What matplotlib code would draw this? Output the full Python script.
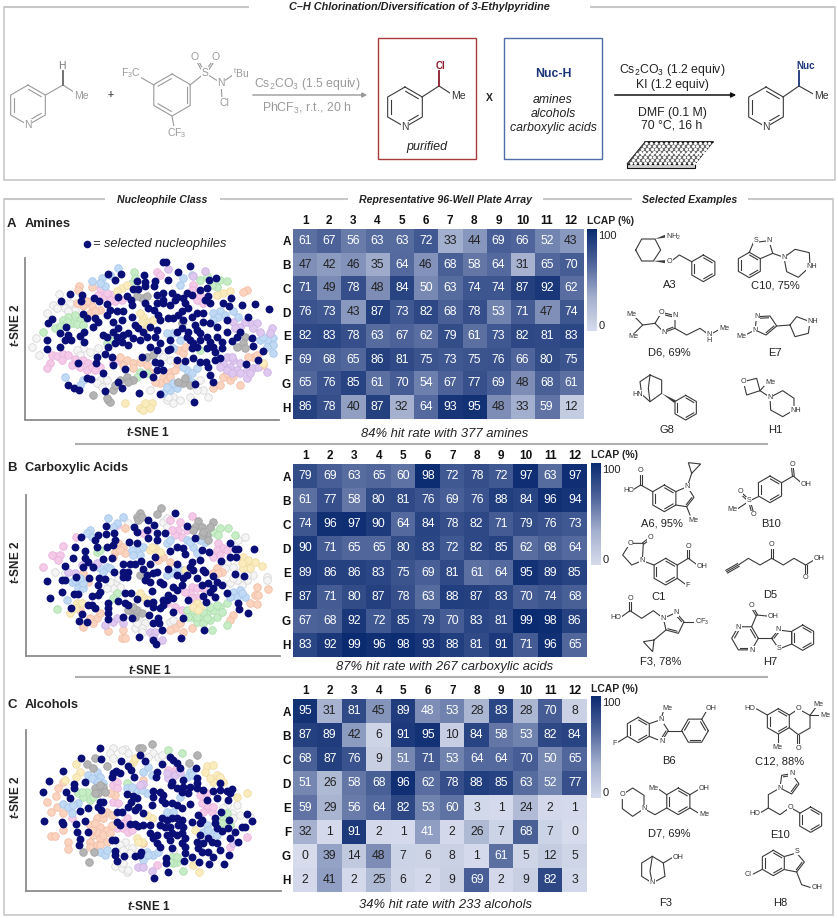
import numpy as np
import matplotlib as mp
mp.use('Agg')
import matplotlib.pyplot as plt
from matplotlib.colors import LinearSegmentedColormap
from matplotlib.patches import Rectangle, Polygon

plt.rcParams['font.family'] = ['Liberation Sans', 'DejaVu Sans']
plt.rcParams['mathtext.fontset'] = 'custom'
plt.rcParams['mathtext.rm'] = 'Liberation Sans'
plt.rcParams['mathtext.it'] = 'Liberation Sans:italic'
plt.rcParams['mathtext.bf'] = 'Liberation Sans:bold'
plt.rcParams['mathtext.bfit'] = 'Liberation Sans:italic:bold'
plt.rcParams['mathtext.default'] = 'regular'

W, H = 838, 918

rows = ['A', 'B', 'C', 'D', 'E', 'F', 'G', 'H']
cols = [str(i) for i in range(1, 13)]

amines_lcap = [
    [61, 67, 56, 63, 63, 72, 33, 44, 69, 66, 52, 43],
    [47, 42, 46, 35, 64, 46, 68, 58, 64, 31, 65, 70],
    [71, 49, 78, 48, 84, 50, 63, 74, 74, 87, 92, 62],
    [76, 73, 43, 87, 73, 82, 68, 78, 53, 71, 47, 74],
    [82, 83, 78, 63, 67, 62, 79, 61, 73, 82, 81, 83],
    [69, 68, 65, 86, 81, 75, 73, 75, 76, 66, 80, 75],
    [65, 76, 85, 61, 70, 54, 67, 77, 69, 48, 68, 61],
    [86, 78, 40, 87, 32, 64, 93, 95, 48, 33, 59, 12],
]
acids_lcap = [
    [79, 69, 63, 65, 60, 98, 72, 78, 72, 97, 63, 97],
    [61, 77, 58, 80, 81, 76, 69, 76, 88, 84, 96, 94],
    [74, 96, 97, 90, 64, 84, 78, 82, 71, 79, 76, 73],
    [90, 71, 65, 65, 80, 83, 72, 82, 85, 62, 68, 64],
    [89, 86, 86, 83, 75, 69, 81, 61, 64, 95, 89, 85],
    [87, 71, 80, 87, 78, 63, 88, 87, 83, 70, 74, 68],
    [67, 68, 92, 72, 85, 79, 70, 83, 81, 99, 98, 86],
    [83, 92, 99, 96, 98, 93, 88, 81, 91, 71, 96, 65],
]
alcohols_lcap = [
    [95, 31, 81, 45, 89, 48, 53, 28, 83, 28, 70, 8],
    [87, 89, 42, 6, 91, 95, 10, 84, 58, 53, 82, 84],
    [68, 87, 76, 9, 51, 71, 53, 64, 64, 70, 50, 65],
    [51, 26, 58, 68, 96, 62, 78, 88, 85, 63, 52, 77],
    [59, 29, 56, 64, 82, 53, 60, 3, 1, 24, 2, 1],
    [32, 1, 91, 2, 1, 41, 2, 26, 7, 68, 7, 0],
    [0, 39, 14, 48, 7, 6, 8, 1, 61, 5, 12, 5],
    [2, 41, 2, 25, 6, 2, 9, 69, 2, 9, 82, 3],
]

# selected nucleophiles
amines_sel = [(490,188),(499,188),(571,200),(533,217),(325,223),(363,222),(345,241),(432,227),(648,234),(626,240),(436,246),(410,243),(465,245),(505,241),(462,258),(434,260),(400,268),(415,268),(210,282),(245,285),(281,295),(296,303),(244,305),(184,305),(322,312),(353,291),(380,290),(392,300),(395,315),(470,285),(490,280),(515,280),(530,292),(548,295),(560,280),(575,285),(600,270),(620,265),(625,290),(615,300),(630,310),(693,296),(670,310),(686,318),(725,317),(766,314),(808,328),(745,350),(680,360),(435,310),(445,325),(470,310),(490,310),(510,315),(525,300),(490,300),(555,310),(565,325),(545,335),(535,345),(462,330),(475,345),(480,360),(505,355),(520,355),(575,350),(590,340),(610,340),(550,360),(248,342),(262,355),(285,355),(295,365),(320,345),(330,330),(350,335),(370,335),(395,350),(365,360),(340,365),(155,356),(143,368),(280,380),(198,382),(180,400),(205,405),(240,408),(252,395),(195,420),(212,420),(140,420),(140,447),(180,440),(253,425),(310,405),(320,410),(355,385),(340,395),(405,375),(415,385),(450,380),(470,390),(430,395),(350,410),(370,405),(385,400),(400,415),(420,420),(440,410),(465,410),(345,430),(365,425),(385,435),(450,440),(470,450),(510,420),(510,447),(530,395),(545,385),(565,395),(585,375),(610,365),(630,370),(650,380),(680,395),(720,395),(710,410),(755,413),(758,438),(788,452),(773,480),(737,491),(560,410),(570,420),(580,430),(575,445),(590,440),(600,420),(600,400),(590,390),(620,410),(630,425),(640,440),(650,410),(665,425),(695,423),(645,455),(620,445),(665,445),(325,440),(315,462),(335,470),(290,470),(287,490),(340,495),(235,490),(425,470),(375,507),(465,487),(480,490),(490,510),(470,510),(460,530),(430,523),(310,520),(260,535),(272,537),(205,555),(222,565),(236,570),(315,572),(353,545),(365,563),(416,578),(480,582),(585,553),(582,605),(555,483),(580,473),(600,485),(617,485),(625,500),(645,480),(660,475),(630,525),(640,545),(530,480),(505,450),(480,430)]
acids_sel = [(526,218),(445,240),(462,254),(562,259),(319,258),(401,262),(410,275),(243,291),(285,300),(295,285),(317,283),(342,280),(345,300),(340,315),(320,322),(290,320),(226,322),(256,334),(388,307),(412,310),(440,270),(445,295),(470,280),(495,280),(470,300),(510,333),(530,320),(548,325),(555,342),(584,295),(605,330),(627,337),(690,308),(705,327),(715,327),(763,327),(690,350),(708,352),(662,362),(600,360),(575,365),(570,380),(580,390),(219,354),(255,355),(265,365),(308,357),(335,355),(466,350),(422,362),(370,372),(390,372),(405,372),(450,372),(530,372),(195,378),(250,382),(280,382),(343,396),(370,395),(385,395),(380,410),(370,410),(430,387),(505,387),(530,405),(560,405),(590,413),(610,390),(615,395),(640,407),(706,402),(731,407),(142,422),(185,420),(195,420),(229,410),(266,415),(298,415),(315,418),(295,435),(440,405),(460,400),(470,395),(435,420),(450,425),(480,425),(490,432),(550,415),(545,435),(520,440),(530,450),(605,435),(625,428),(650,425),(665,435),(640,445),(630,455),(645,470),(681,459),(185,455),(222,463),(235,463),(150,473),(275,467),(300,455),(295,465),(375,460),(392,458),(455,452),(505,465),(410,478),(563,481),(610,468),(618,487),(715,488),(716,507),(743,519),(265,495),(275,495),(285,505),(325,490),(325,505),(355,483),(375,490),(385,495),(440,490),(460,485),(460,500),(490,480),(500,480),(490,495),(480,505),(520,475),(520,515),(213,503),(323,520),(323,537),(247,523),(238,542),(260,545),(370,532),(395,535),(448,525),(473,535),(478,548),(548,533),(458,548),(485,570),(611,571),(417,590),(460,600),(467,612),(542,593)]
alcohols_sel = [(299,208),(303,241),(243,238),(188,278),(148,309),(130,340),(222,318),(222,330),(198,340),(256,312),(211,358),(420,229),(434,248),(510,235),(520,245),(530,255),(540,268),(486,258),(364,249),(385,262),(392,275),(347,277),(360,283),(340,285),(335,297),(402,297),(470,280),(468,295),(589,269),(590,298),(590,315),(550,306),(516,310),(513,320),(660,313),(660,335),(640,337),(680,337),(697,332),(690,345),(685,365),(650,358),(620,365),(610,335),(590,330),(570,325),(550,325),(530,330),(545,340),(565,345),(380,347),(400,352),(410,360),(460,337),(480,340),(490,350),(458,355),(485,365),(495,375),(515,375),(530,380),(545,390),(570,378),(392,370),(385,385),(415,385),(405,395),(428,405),(455,380),(300,370),(308,372),(295,385),(303,395),(265,390),(240,398),(133,427),(185,432),(190,437),(227,437),(255,428),(230,460),(263,460),(350,400),(365,400),(350,430),(360,440),(390,438),(405,438),(415,442),(430,440),(450,440),(485,420),(500,425),(515,420),(530,420),(545,425),(480,440),(495,445),(510,445),(535,440),(550,445),(575,430),(595,410),(605,425),(600,435),(645,420),(645,435),(650,450),(662,400),(688,425),(685,448),(705,460),(665,458),(690,478),(715,492),(725,447),(735,445),(757,428),(742,407),(240,482),(238,500),(335,484),(345,484),(450,465),(470,470),(460,480),(470,495),(480,505),(500,470),(515,465),(510,485),(530,470),(545,465),(555,480),(545,495),(515,510),(555,505),(555,525),(600,470),(590,490),(610,495),(625,480),(635,490),(650,495),(660,515),(595,510),(605,520),(625,520),(640,535),(346,517),(346,530),(350,547),(372,533),(405,532),(423,520),(420,530),(497,540),(498,555),(553,547),(577,537),(596,551),(627,558),(671,556),(686,530),(503,582),(461,600)]

# pale cluster points by cluster colour
amines_pink = [(155,465),(170,468),(190,462),(205,465),(185,480),(150,490),(140,505),(250,480),(265,490),(240,500),(260,510),(275,500),(300,500),(310,290),(335,285),(345,305),(320,280),(470,218),(480,225),(580,255),(590,300),(610,310),(225,478),(215,495),(285,510),(295,285),(330,300),(365,300),(600,285),(575,270),(300,265),(340,490),(355,480)]
amines_peach = [(238,258),(275,262),(235,272),(740,270),(730,278),(250,320),(275,320),(270,340),(300,330),(380,480),(400,490),(370,495),(420,485),(440,495),(490,530),(510,515),(525,510),(500,540),(480,550),(465,545),(535,450),(550,460),(760,470),(790,495),(670,530),(690,540),(660,555),(640,565),(720,555),(770,465),(745,470),(260,305),(285,335),(230,310),(400,505),(450,515),(510,530),(530,490),(555,440),(360,470),(680,520),(700,528)]
amines_green = [(205,350),(225,345),(240,360),(190,360),(215,370),(165,385),(128,395),(403,216),(395,250),(600,240),(620,230),(660,240),(680,245),(650,262),(420,515),(440,520),(410,530),(330,420),(320,430),(600,450),(200,365),(230,372),(250,375),(180,378),(635,255),(405,235)]
amines_blue = [(250,540),(240,555),(195,530),(560,510),(575,520),(550,500),(590,505),(510,570),(530,565),(490,580),(540,550),(820,415),(800,420),(820,435),(820,460),(780,420),(660,335),(640,340),(700,335),(655,350),(520,400),(540,420),(500,400),(355,205),(330,225),(305,235),(275,243),(315,260),(550,235),(575,225),(520,445),(675,345),(715,350),(640,360),(560,530),(575,545),(520,550),(500,560),(300,250),(540,255),(800,440),(790,410)]
amines_lilac = [(680,470),(700,480),(720,490),(690,500),(710,510),(740,510),(670,490),(760,505),(800,515),(740,535),(720,520),(700,365),(720,380),(750,370),(770,370),(815,385),(780,395),(810,400),(505,208),(615,215),(580,230),(695,470),(660,500),(680,510),(760,385),(735,365),(705,385),(750,520),(775,500),(695,520)]
amines_yellow = [(440,620),(420,625),(455,610),(375,610),(430,350),(445,365),(420,340),(460,360),(365,265),(350,275),(670,280),(650,285),(790,490),(430,630),(450,625),(435,610),(425,365),(440,380),(690,275),(380,255)]
amines_gray = [(425,295),(410,290),(440,290),(325,600),(280,585),(380,530),(400,540),(360,540),(340,570),(550,550),(570,555),(535,545),(735,410),(730,430),(710,440),(735,445),(440,470),(460,465),(545,370),(330,605),(320,595),(385,545),(345,555),(555,535)]
amines_white = [(178,283),(158,315),(140,340),(210,310),(195,325),(225,330),(95,440),(108,415),(118,465),(250,445),(270,455),(230,450),(300,540),(320,540),(520,590),(500,600),(540,600),(625,590),(600,540),(610,570),(490,470),(510,480),(450,570),(205,335),(170,325),(290,550),(305,560),(520,610),(505,590),(590,570),(570,590),(475,455),(295,445),(240,465)]

acids_pink = [(130,380),(165,348),(180,345),(190,318),(175,360),(228,292),(575,228),(510,240),(540,245),(535,270),(545,290),(575,440),(590,445),(570,460),(590,470),(525,500),(545,510),(655,310),(670,325),(650,330),(640,350),(660,345),(445,270),(430,280),(350,255),(525,285),(515,270),(560,270),(555,455),(575,475),(610,445),(500,490),(680,330),(155,345)]
acids_peach = [(355,310),(370,320),(345,335),(375,340),(250,400),(265,425),(245,430),(650,385),(665,395),(640,400),(490,350),(510,365),(770,442),(805,448),(765,465),(775,465),(750,490),(770,493),(700,525),(690,540),(325,573),(370,570),(365,595),(375,595),(240,510),(290,535),(280,550),(250,560),(575,565),(550,575),(525,565),(540,550),(360,330),(340,350),(375,265),(475,360),(655,400),(270,535),(300,520),(510,570)]
acids_green = [(170,508),(350,460),(340,475),(290,335),(560,510),(580,520),(600,530),(620,520),(640,510),(660,500),(680,490),(590,545),(610,550),(630,540),(650,530),(665,515),(682,555),(636,570),(640,275),(660,265),(685,265),(705,285),(575,530),(565,530),(610,515),(630,500),(650,495),(620,535),(590,530),(655,285),(300,330)]
acids_blue = [(200,480),(230,430),(215,425),(235,445),(250,445),(270,270),(260,280),(325,235),(370,232),(350,250),(340,262),(500,310),(510,300),(410,330),(420,345),(395,330),(430,320),(580,320),(590,340),(560,300),(320,380),(300,385),(330,385),(700,455),(720,450),(735,470),(710,470),(690,470),(615,305),(600,300),(500,405),(550,390),(520,400),(225,420),(250,430),(240,415),(275,290),(400,345),(570,305),(725,460),(310,395),(535,385)]
acids_lilac = [(315,555),(340,545),(350,535),(450,575),(465,575),(485,600),(370,550),(225,400),(205,395),(280,380),(290,370),(245,375),(460,590)]
acids_yellow = [(465,325),(450,330),(480,335),(730,350),(740,370),(750,385),(765,365),(785,378),(730,385),(590,490),(580,500),(600,500),(430,470),(445,480),(210,518),(230,490),(245,490),(555,390),(455,320),(745,360),(725,370),(420,460),(595,510),(225,505)]
acids_gray = [(420,220),(410,230),(415,240),(482,205),(472,222),(595,242),(585,262),(605,262),(640,245),(630,262),(620,285),(605,285),(625,300),(580,270),(395,515),(410,510),(425,520),(385,510),(405,530),(425,232),(610,275),(400,500),(420,405)]
acids_white = [(165,395),(195,400),(800,412),(760,405),(740,420),(725,435),(710,420),(690,430),(700,380),(720,395),(680,370),(735,290),(715,300),(345,430),(360,440),(340,445),(490,245),(500,260),(420,545),(435,550),(405,565),(425,565),(510,545),(525,555),(320,445),(385,250),(700,415),(675,385),(800,420),(740,405),(355,415),(330,425),(410,550),(520,540),(500,235),(425,575)]

alcohols_pink = [(340,320),(350,310),(340,370),(355,375),(380,420),(370,450),(385,460),(350,450),(215,420),(520,280),(510,290),(505,275),(600,350),(620,390),(635,400),(610,400),(620,345),(690,505),(740,475),(470,560),(370,435),(395,455),(620,380),(640,385),(530,265),(350,330),(605,375)]
alcohols_peach = [(175,328),(168,353),(140,372),(170,387),(152,402),(190,405),(152,472),(165,472),(190,455),(205,490),(203,512),(270,490),(290,500),(280,470),(300,480),(270,440),(290,420),(310,420),(320,400),(300,445),(320,455),(335,440),(290,460),(310,470),(320,490),(345,350),(330,345),(430,305),(430,495),(285,435),(305,405),(335,410),(275,455),(270,505),(300,500),(330,465),(425,320),(190,310)]
alcohols_green = [(235,345),(260,340),(250,355),(270,365),(505,216),(547,225),(380,315),(515,535),(530,550),(520,555),(548,578),(670,420),(690,440),(680,405),(245,340),(280,355),(530,535),(510,550),(665,435)]
alcohols_blue = [(190,378),(205,385),(235,375),(215,405),(265,290),(290,280),(300,295),(285,305),(310,315),(300,520),(315,530),(430,280),(445,265),(455,290),(380,330),(410,335),(440,345),(570,280),(560,295),(440,520),(460,530),(430,545),(620,440),(640,465),(650,470),(540,355),(500,400),(520,400),(275,300),(295,310),(425,335),(395,325),(220,380),(445,530),(475,520),(610,460),(625,455),(575,290),(320,515)]
alcohols_lilac = [(430,318),(415,565),(430,565),(455,578),(525,290),(505,300),(420,320),(500,285),(540,280),(700,495)]
alcohols_yellow = [(228,258),(240,280),(228,295),(400,250),(390,262),(620,262),(638,260),(615,280),(650,290),(640,310),(670,310),(710,357),(741,343),(455,420),(410,480),(425,490),(598,582),(580,560),(585,455),(195,305),(660,295),(630,300),(405,240),(440,410),(415,490)]
alcohols_gray = [(300,335),(285,330),(310,325),(295,345),(285,345),(260,258),(280,270),(320,263),(285,240),(418,208),(455,198),(590,230),(567,255),(248,522),(268,552),(283,522),(300,320),(315,340),(425,208)]
alcohols_white = [(338,210),(330,225),(375,212),(385,225),(460,225),(445,235),(475,235),(345,563),(365,570),(380,580),(370,555),(695,405),(710,380),(680,380),(700,420),(750,415),(375,490),(395,510),(360,500),(520,515),(485,230),(340,240),(385,575),(390,525),(370,515),(720,410),(670,390),(365,215)]

palette = {'pink': ('#f5c9e8', '#e9b4dc'), 'peach': ('#fbd3bf', '#f2bfa8'), 'green': ('#c6edc6', '#afdfaf'),
           'blue': ('#c0d9f5', '#a9c8ea'), 'lilac': ('#dfc8f0', '#cdb3e4'), 'yellow': ('#fbecbd', '#efdca4'),
           'gray': ('#b4b4b4', '#a2a2a2'), 'white': ('#f5f5f5', '#d8d8d8')}
navy = '#0a0f78'
bond = '#3a3a3a'
grayc = '#9a9a9a'
frame = '#c8c8c8'

cmap = LinearSegmentedColormap.from_list('lcap', ['#d6dcec', '#a3afce', '#4d6399', '#0a2a70'])

fig = plt.figure(figsize=(W / 100, H / 100), dpi=100)
over = fig.add_axes([0, 0, 1, 1])
over.set_xlim(0, W)
over.set_ylim(H, 0)
over.axis('off')


def box(x0, y0, x1, y1):
    return [x0 / W, 1 - y1 / H, (x1 - x0) / W, (y1 - y0) / H]


def txt(x, y, s, size=8, ha='center', c='#222222', **kw):
    over.text(x, y, s, fontsize=size, ha=ha, va='center', color=c, **kw)


def hline(x0, x1, y, c=frame, lw=1.5):
    over.plot([x0, x1], [y, y], color=c, lw=lw, solid_capstyle='butt')


def mol(ox, oy, pts, closed=False, dbl=(), c=bond, k=3, lw=0.8):
    p = np.array([(ox + x / k, oy + y / k) for x, y in pts], dtype=float)
    q = np.vstack([p, p[:1]]) if closed else p
    over.plot(q[:, 0], q[:, 1], color=c, lw=lw, solid_joinstyle='miter', zorder=3)
    mid = p.mean(axis=0)
    for i in dbl:
        a, b = p[i], p[(i + 1) % len(p)]
        a2 = a + (b - a) * 0.14 + (mid - (a + b) / 2) * 0.2
        b2 = b - (b - a) * 0.14 + (mid - (a + b) / 2) * 0.2
        over.plot([a2[0], b2[0]], [a2[1], b2[1]], color=c, lw=lw, zorder=3)


def dbond(ox, oy, a, b, c=bond, k=3, lw=0.8, gap=0.9):
    a = np.array((ox + a[0] / k, oy + a[1] / k))
    b = np.array((ox + b[0] / k, oy + b[1] / k))
    n = np.array([-(b - a)[1], (b - a)[0]])
    n = n / np.hypot(*n) * gap
    for s in (-1, 1):
        over.plot([a[0] + s * n[0], b[0] + s * n[0]], [a[1] + s * n[1], b[1] + s * n[1]], color=c, lw=lw, zorder=3)


def wedge(ox, oy, a, b, c=bond, k=3):
    a = np.array((ox + a[0] / k, oy + a[1] / k))
    b = np.array((ox + b[0] / k, oy + b[1] / k))
    n = np.array([-(b - a)[1], (b - a)[0]])
    n = n / np.hypot(*n) * 1.5
    over.add_patch(Polygon([a, b + n, b - n], closed=True, color=c, lw=0, zorder=3))


def atom(ox, oy, x, y, s, size=5.2, c='#333333', k=3):
    over.text(ox + x / k, oy + y / k, s, fontsize=size, color=c, ha='center', va='center', zorder=4,
              bbox=dict(fc='white', ec='none', pad=0.4))


def pyridine(cx, cy, c=bond, r=20):
    hexa = [(cx + r * np.cos(np.radians(a)), cy - r * np.sin(np.radians(a))) for a in (90, 30, -30, -90, -150, 150)]
    mol(0, 0, hexa, closed=True, dbl=(0, 2, 4), c=c, k=1)
    atom(0, 0, cx, cy + r, 'N', size=7.5, c=c, k=1)


def benzene(ox, oy, cx, cy, r=38, start=90, dbl=(0, 2, 4), c=bond):
    hexa = [(cx + r * np.cos(np.radians(start - 60 * i)), cy - r * np.sin(np.radians(start - 60 * i))) for i in range(6)]
    mol(ox, oy, hexa, closed=True, dbl=dbl, c=c)


# top scheme
hline(4, 249, 7)
hline(590, 835, 7)
over.plot([4, 4, 835, 835], [7, 180, 180, 7], color=frame, lw=1.2)
txt(419.5, 7, 'C–H Chlorination/Diversification of 3-Ethylpyridine', size=7.8, fontweight='bold', fontstyle='italic')

pyridine(28, 105, c=grayc)
mol(0, 0, [(45.5, 95), (63, 85), (80, 96)], c=grayc, k=1)
mol(0, 0, [(63, 85), (63, 71)], c='#666666', k=1, lw=1.3)
txt(62, 66, 'H', size=7.5, c='#777777')
atom(0, 0, 81, 96, 'Me', size=7.5, c=grayc, k=1)
txt(111, 95, '+', size=7.5, c='#555555', fontweight='bold')
benzene(0, 0, 172 * 3, 95 * 3, r=63, dbl=(1, 3, 5), c=grayc)
mol(0, 0, [(154, 85), (140, 77)], c=grayc, k=1)
mol(0, 0, [(172, 116), (174, 127)], c=grayc, k=1)
mol(0, 0, [(190, 85), (205, 73), (221, 83), (233, 75)], c=grayc, k=1)
mol(0, 0, [(221, 83), (222, 98)], c=grayc, k=1)
dbond(0, 0, (203, 71), (197, 60), c=grayc, k=1)
dbond(0, 0, (207, 71), (214, 60), c=grayc, k=1)
atom(0, 0, 131, 73, 'F$_3$C', size=7.5, c=grayc, k=1)
atom(0, 0, 177, 133, 'CF$_3$', size=7.5, c=grayc, k=1)
atom(0, 0, 205, 73, 'S', size=7.5, c=grayc, k=1)
atom(0, 0, 195, 57, 'O', size=7.5, c=grayc, k=1)
atom(0, 0, 216, 57, 'O', size=7.5, c=grayc, k=1)
atom(0, 0, 221, 83, 'N', size=7.5, c=grayc, k=1)
atom(0, 0, 241, 73, '$^{t}$Bu', size=7.5, c=grayc, k=1)
atom(0, 0, 224, 103, 'Cl', size=7.5, c=grayc, k=1)
over.annotate('', xy=(370, 95), xytext=(250, 95), arrowprops=dict(arrowstyle='-|>', color=grayc, lw=1, mutation_scale=7))
txt(307, 84, 'Cs$_2$CO$_3$ (1.5 equiv)', size=8.8, c=grayc)
txt(307, 108, 'PhCF$_3$, r.t., 20 h', size=8.8, c=grayc)

over.add_patch(Rectangle((378, 38), 98, 121, fc='none', ec='#a83a3a', lw=1))
over.add_patch(Rectangle((504, 38), 98, 121, fc='none', ec='#4f6ea8', lw=1))
pyridine(405, 107, c=bond)
mol(0, 0, [(422, 97), (439, 86), (453, 95)], k=1)
mol(0, 0, [(439, 86), (439, 71)], c='#8a1c2c', k=1, lw=1.3)
txt(440, 66, 'Cl', size=7, c='#8a1c2c', fontweight='bold')
atom(0, 0, 458, 96, 'Me', size=7.5, k=1)
txt(427, 147, 'purified', size=9, fontstyle='italic')
txt(489, 98, 'X', size=7.5, fontweight='bold')
txt(553, 74, 'Nuc-H', size=8.8, c='#1c3578', fontweight='bold')
txt(553, 100, 'amines', size=8.8, fontstyle='italic')
txt(553, 114, 'alcohols', size=8.8, fontstyle='italic')
txt(553, 128, 'carboxylic acids', size=8.8, fontstyle='italic')
over.annotate('', xy=(739, 95), xytext=(612, 95), arrowprops=dict(arrowstyle='-|>', color='#111111', lw=1.1, mutation_scale=7))
txt(672, 70, 'Cs$_2$CO$_3$ (1.2 equiv)', size=8.8)
txt(672, 85, 'KI (1.2 equiv)', size=8.8)
txt(672, 113, 'DMF (0.1 M)', size=8.8)
txt(672, 126, '70 °C, 16 h', size=8.8)

# well plate
tl, tr, br, bl = np.array((645., 142.)), np.array((713., 142.)), np.array((695., 164.)), np.array((627., 164.))
over.add_patch(Polygon([bl, br, (695, 168), (627, 168)], closed=True, fc='#d0d0d0', ec='#111111', lw=0.8))
over.add_patch(Polygon([tl, tr, br, bl], closed=True, fc='#6a6a6a', ec='#222222', lw=0.7))
over.plot([tl[0], tr[0]], [tl[1], tr[1]], color='#111111', lw=1.1)
for i in range(14):
    for j in range(8):
        u, v = (i + 0.5) / 14, (j + 0.5) / 8
        p = tl + (tr - tl) * u + (bl - tl) * v
        over.plot(p[0], p[1], 'o', ms=2.3, mfc='white', mec='none', zorder=3)

pyridine(766, 107, c=bond)
mol(0, 0, [(783, 97), (799, 86), (815, 95)], k=1)
mol(0, 0, [(799, 86), (799, 71)], c='#1c3578', k=1, lw=1.3)
txt(806, 66, 'Nuc', size=7, c='#1c3578', fontweight='bold')
atom(0, 0, 821, 96, 'Me', size=7.5, k=1)

# lower frame and headers
hline(4, 105, 199)
hline(220, 348, 199)
hline(543, 632, 199)
hline(748, 833, 199)
over.plot([4, 4, 833, 833], [199, 915, 915, 199], color=frame, lw=1.2)
txt(162, 200, 'Nucleophile Class', size=7.6, fontweight='bold', fontstyle='italic')
txt(445, 200, 'Representative 96-Well Plate Array', size=7.6, fontweight='bold', fontstyle='italic')
txt(690, 200, 'Selected Examples', size=7.6, fontweight='bold', fontstyle='italic')
hline(75, 768, 444, c='#b0b0b0')
hline(75, 768, 677, c='#b0b0b0')


def scatter_panel(pos, lims, groups, selected):
    ax = fig.add_axes(box(*pos))
    ax.patch.set_alpha(0)
    for name, pts in groups.items():
        xs, ys = zip(*pts)
        ax.scatter(xs, ys, s=30, c=palette[name][0], edgecolors=palette[name][1], linewidths=0.6, zorder=2, clip_on=False)
    xs, ys = zip(*selected)
    ax.scatter(xs, ys, s=32, c=navy, linewidths=0, zorder=3, clip_on=False)
    ax.set_xlim(lims[0], lims[1])
    ax.set_ylim(lims[2], lims[3])
    ax.set_xticks([])
    ax.set_yticks([])
    for s in ('top', 'right'):
        ax.spines[s].set_visible(False)
    for s in ('left', 'bottom'):
        ax.spines[s].set_color('#8c8c8c')
        ax.spines[s].set_linewidth(1.3)


def heat_panel(pos, data, light=()):
    ax = fig.add_axes(box(*pos))
    im = ax.imshow(np.array(data), cmap=cmap, vmin=0, vmax=100, aspect='auto')
    ax.set_xticks(range(12), cols, fontsize=8.5, fontweight='bold', color='#111111')
    ax.set_yticks(range(8), rows, fontsize=8.5, fontweight='bold', color='#111111')
    ax.xaxis.tick_top()
    ax.tick_params(length=0, pad=1.5)
    for s in ax.spines.values():
        s.set_visible(False)
    for i, row in enumerate(data):
        for j, v in enumerate(row):
            col = 'white' if v >= 50 or (i, j) in light else '#222222'
            ax.text(j, i, str(v), ha='center', va='center', fontsize=8.8, color=col)
    return im


def lcap_bar(im, pos):
    cax = fig.add_axes(box(*pos))
    cb = fig.colorbar(im, cax=cax)
    cb.outline.set_visible(False)
    cb.set_ticks([94, 6], labels=['100', '0'])
    cax.tick_params(length=0, pad=1, labelsize=8, colors='#222222')


amines_groups = {'white': amines_white, 'pink': amines_pink, 'peach': amines_peach, 'green': amines_green,
                 'blue': amines_blue, 'lilac': amines_lilac, 'yellow': amines_yellow, 'gray': amines_gray}
acids_groups = {'white': acids_white, 'pink': acids_pink, 'peach': acids_peach, 'green': acids_green,
                'blue': acids_blue, 'lilac': acids_lilac, 'yellow': acids_yellow, 'gray': acids_gray}
alcohols_groups = {'white': alcohols_white, 'pink': alcohols_pink, 'peach': alcohols_peach, 'green': alcohols_green,
                   'blue': alcohols_blue, 'lilac': alcohols_lilac, 'yellow': alcohols_yellow, 'gray': alcohols_gray}

scatter_panel((25, 258, 278.5, 419.5), (75, 835, 658, 175), amines_groups, amines_sel)
scatter_panel((26, 495, 280, 656), (78, 840, 648, 165), acids_groups, acids_sel)
scatter_panel((26, 730, 280.5, 891), (78, 842, 638, 155), alcohols_groups, alcohols_sel)

im = heat_panel((293, 229, 583, 419), amines_lcap)
lcap_bar(im, (587, 229, 597, 331))
im = heat_panel((293, 464, 587, 657), acids_lcap)
lcap_bar(im, (591, 463, 601, 565))
im = heat_panel((293, 699, 587, 892), alcohols_lcap, light={(0, 5), (5, 5)})
lcap_bar(im, (591, 696, 601, 798))

txt(587, 221, 'LCAP (%)', size=7.5, ha='left', fontweight='bold')
txt(591, 455, 'LCAP (%)', size=7.5, ha='left', fontweight='bold')
txt(591, 689, 'LCAP (%)', size=7.5, ha='left', fontweight='bold')
txt(445, 434, '84% hit rate with 377 amines', size=9.4, fontstyle='italic')
txt(445, 667, '87% hit rate with 267 carboxylic acids', size=9.4, fontstyle='italic')
txt(445, 905, '34% hit rate with 233 alcohols', size=9.4, fontstyle='italic')

for y, letter, name in ((224, 'A', 'Amines'), (468, 'B', 'Carboxylic Acids'), (705, 'C', 'Alcohols')):
    txt(7, y, letter, size=9.5, ha='left', fontweight='bold')
    txt(25, y, name, size=9.2, ha='left', fontweight='bold')
over.scatter([86.5], [243.5], s=30, c=navy, linewidths=0, zorder=3)
txt(93, 244, '= selected nucleophiles', size=9.2, ha='left', fontstyle='italic')
for x, y1, y2 in ((148, 325, 433), (150, 562, 670), (149, 797, 906)):
    txt(15, y1, r'$\mathbfit{t}$-SNE 2', size=8.5, fontweight='bold', rotation=90)
    txt(x, y2, r'$\mathbfit{t}$-SNE 1', size=8.5, fontweight='bold')

# selected examples, amines
ox, oy = 620, 200
mol(ox, oy, [(47, 150), (65, 117), (105, 117), (122, 150), (100, 183), (65, 183)], closed=True)
wedge(ox, oy, (105, 117), (138, 108))
atom(ox, oy, 160, 110, 'NH$_2$')
wedge(ox, oy, (100, 183), (135, 185))
atom(ox, oy, 148, 185, 'O')
mol(ox, oy, [(158, 180), (178, 165), (215, 185)])
benzene(ox, oy, 250, 205, r=40)
benzene(ox, oy, 388, 195)
mol(ox, oy, [(388, 157), (400, 128), (447, 122), (458, 160), (421, 176)])
mol(ox, oy, [(458, 160), (492, 172), (525, 148), (568, 158), (570, 200), (535, 232), (500, 215), (492, 172)])
atom(ox, oy, 407, 120, 'S')
atom(ox, oy, 447, 122, 'N')
atom(ox, oy, 492, 172, 'N')
atom(ox, oy, 575, 200, 'NH')
mol(ox, oy, [(42, 348), (68, 375), (40, 403)])
mol(ox, oy, [(68, 375), (105, 370)])
mol(ox, oy, [(105, 370), (125, 337), (165, 347), (165, 385), (132, 397)], closed=True, dbl=(1, 3))
mol(ox, oy, [(165, 385), (200, 405), (240, 385), (268, 405), (295, 390)])
atom(ox, oy, 35, 343, 'Me')
atom(ox, oy, 40, 410, 'Me')
atom(ox, oy, 125, 337, 'O')
atom(ox, oy, 165, 347, 'N')
atom(ox, oy, 132, 397, 'N')
atom(ox, oy, 268, 402, 'N')
atom(ox, oy, 268, 422, 'H')
atom(ox, oy, 312, 385, 'Me')
mol(ox, oy, [(380, 403), (405, 390)])
mol(ox, oy, [(405, 390), (410, 350), (450, 348), (470, 378), (438, 405)], closed=True, dbl=(1, 3))
mol(ox, oy, [(470, 378), (510, 375)])
mol(ox, oy, [(510, 375), (530, 350), (570, 365), (565, 400), (525, 410)], closed=True)
atom(ox, oy, 365, 408, 'Me')
atom(ox, oy, 405, 390, 'N')
atom(ox, oy, 410, 350, 'N')
atom(ox, oy, 578, 365, 'NH')
mol(ox, oy, [(90, 525), (125, 540), (125, 580), (90, 605), (65, 583), (60, 545)], closed=True)
mol(ox, oy, [(90, 525), (85, 565), (90, 605)])
wedge(ox, oy, (125, 580), (165, 605))
benzene(ox, oy, 197, 623, r=37)
atom(ox, oy, 52, 583, 'HN')
mol(ox, oy, [(370, 545), (410, 535), (420, 572), (380, 585)], closed=True)
mol(ox, oy, [(420, 572), (450, 592), (488, 572), (522, 595), (522, 630), (488, 650), (452, 630), (450, 592)])
mol(ox, oy, [(420, 572), (438, 552)])
atom(ox, oy, 370, 545, 'O')
atom(ox, oy, 450, 547, 'Me')
atom(ox, oy, 450, 592, 'N')
atom(ox, oy, 528, 630, 'NH')
for x, y, s in ((148, 256, 'A3'), (465, 256, 'C10, 75%'), (147, 458, 'D6, 69%'), (465, 458, 'E7'), (140, 690, 'G8'), (465, 690, 'H1')):
    txt(ox + x / 3, oy + y / 3, s, size=8)

# selected examples, carboxylic acids
ox, oy = 610, 440
benzene(ox, oy, 163, 175, r=40)
mol(ox, oy, [(197, 155), (232, 140), (252, 172), (230, 200), (197, 195)], dbl=(2,))
mol(ox, oy, [(68, 150), (92, 135), (128, 155)])
dbond(ox, oy, (92, 135), (92, 100))
mol(ox, oy, [(230, 200), (240, 225)])
mol(ox, oy, [(232, 140), (245, 100), (235, 68), (272, 72), (245, 100)])
atom(ox, oy, 55, 152, 'HO')
atom(ox, oy, 92, 92, 'O')
atom(ox, oy, 232, 140, 'N')
atom(ox, oy, 250, 240, 'Me')
benzene(ox, oy, 480, 148, r=40)
mol(ox, oy, [(515, 128), (550, 108), (570, 125)])
dbond(ox, oy, (550, 108), (547, 80))
mol(ox, oy, [(445, 170), (418, 183), (385, 205)])
dbond(ox, oy, (418, 183), (395, 162))
dbond(ox, oy, (418, 183), (428, 218))
atom(ox, oy, 547, 72, 'O')
atom(ox, oy, 587, 132, 'OH')
atom(ox, oy, 418, 183, 'S')
atom(ox, oy, 390, 155, 'O')
atom(ox, oy, 430, 225, 'O')
atom(ox, oy, 368, 208, 'Me')
mol(ox, oy, [(60, 310), (100, 310), (97, 362), (65, 375), (38, 345)], closed=True)
dbond(ox, oy, (100, 310), (118, 297))
mol(ox, oy, [(97, 362), (132, 375)])
benzene(ox, oy, 167, 395, r=40)
mol(ox, oy, [(202, 375), (235, 355), (258, 372)])
dbond(ox, oy, (235, 355), (235, 325))
mol(ox, oy, [(202, 415), (225, 432)])
atom(ox, oy, 60, 310, 'O')
atom(ox, oy, 122, 293, 'O')
atom(ox, oy, 97, 362, 'N')
atom(ox, oy, 235, 318, 'O')
atom(ox, oy, 275, 378, 'OH')
atom(ox, oy, 232, 437, 'F')
mol(ox, oy, [(350, 395), (385, 375), (415, 355), (450, 375), (485, 355), (520, 375), (552, 355), (587, 375), (612, 360)])
dbond(ox, oy, (350, 395), (385, 375), gap=1.6)
dbond(ox, oy, (485, 355), (485, 322))
dbond(ox, oy, (587, 375), (587, 405))
atom(ox, oy, 485, 315, 'O')
atom(ox, oy, 587, 413, 'O')
atom(ox, oy, 628, 355, 'OH')
mol(ox, oy, [(35, 530), (60, 512), (95, 535), (130, 512), (160, 535)])
dbond(ox, oy, (60, 512), (60, 482))
mol(ox, oy, [(160, 535), (198, 518), (222, 545), (205, 580), (168, 570)], closed=True, dbl=(1, 3))
mol(ox, oy, [(222, 545), (255, 545)])
mol(ox, oy, [(168, 570), (132, 600), (100, 605), (128, 635), (132, 600)])
atom(ox, oy, 18, 533, 'HO')
atom(ox, oy, 60, 475, 'O')
atom(ox, oy, 160, 535, 'N')
atom(ox, oy, 198, 518, 'N')
atom(ox, oy, 275, 545, 'CF$_3$')
benzene(ox, oy, 405, 595, r=40, start=0, dbl=(1, 3, 5))
mol(ox, oy, [(425, 560), (440, 525), (470, 528)])
dbond(ox, oy, (440, 525), (427, 503))
mol(ox, oy, [(445, 595), (485, 595)])
mol(ox, oy, [(485, 595), (505, 570), (545, 575), (545, 612), (507, 627)], closed=True, dbl=(0,))
benzene(ox, oy, 578, 593, r=38)
atom(ox, oy, 385, 562, 'N')
atom(ox, oy, 425, 630, 'N')
atom(ox, oy, 425, 497, 'O')
atom(ox, oy, 490, 528, 'OH')
atom(ox, oy, 505, 568, 'N')
atom(ox, oy, 507, 627, 'S')
for x, y, s in ((155, 252, 'A6, 95%'), (482, 252, 'B10'), (145, 472, 'C1'), (482, 465, 'D5'), (152, 665, 'F3, 78%'), (480, 665, 'H7')):
    txt(ox + x / 3, oy + y / 3, s, size=8)

# selected examples, alcohols
ox, oy = 610, 678
benzene(ox, oy, 85, 156, r=38)
mol(ox, oy, [(118, 137), (153, 125), (175, 158), (155, 190), (118, 175)], dbl=(2,))
mol(ox, oy, [(52, 175), (25, 192)])
mol(ox, oy, [(153, 125), (160, 100)])
mol(ox, oy, [(175, 158), (215, 158)])
benzene(ox, oy, 255, 158, r=40, start=0, dbl=(1, 3, 5))
mol(ox, oy, [(275, 124), (290, 98)])
atom(ox, oy, 15, 197, 'F')
atom(ox, oy, 153, 125, 'N')
atom(ox, oy, 155, 190, 'N')
atom(ox, oy, 172, 90, 'Me')
atom(ox, oy, 302, 90, 'OH')
benzene(ox, oy, 505, 130, r=38)
mol(ox, oy, [(472, 111), (440, 93)])
mol(ox, oy, [(505, 168), (505, 195)])
mol(ox, oy, [(538, 111), (565, 93), (600, 112), (600, 150), (565, 170), (538, 149)])
dbond(ox, oy, (565, 170), (565, 200))
mol(ox, oy, [(600, 112), (620, 85)])
mol(ox, oy, [(600, 112), (630, 112)])
atom(ox, oy, 420, 92, 'HO')
atom(ox, oy, 503, 208, 'Me')
atom(ox, oy, 565, 93, 'O')
atom(ox, oy, 565, 210, 'O')
atom(ox, oy, 625, 78, 'Me')
atom(ox, oy, 645, 112, 'Me')
mol(ox, oy, [(37, 350), (68, 330), (102, 352), (102, 392), (68, 415), (37, 392)], closed=True)
mol(ox, oy, [(102, 392), (135, 410), (170, 390)])
benzene(ox, oy, 205, 370, r=40)
mol(ox, oy, [(170, 350), (148, 335)])
mol(ox, oy, [(240, 350), (265, 335)])
mol(ox, oy, [(240, 390), (265, 405)])
atom(ox, oy, 37, 350, 'O')
atom(ox, oy, 102, 392, 'N')
atom(ox, oy, 130, 332, 'Me')
atom(ox, oy, 282, 333, 'OH')
atom(ox, oy, 282, 410, 'Me')
mol(ox, oy, [(545, 287), (567, 318), (545, 348), (510, 330), (515, 292)], closed=True, dbl=(1, 4))
mol(ox, oy, [(510, 330), (475, 350), (475, 390), (450, 405)])
mol(ox, oy, [(475, 390), (510, 410), (540, 388), (570, 405)])
benzene(ox, oy, 602, 425, r=38)
atom(ox, oy, 545, 287, 'N')
atom(ox, oy, 510, 330, 'N')
atom(ox, oy, 435, 407, 'HO')
atom(ox, oy, 540, 388, 'O')
mol(ox, oy, [(127, 615), (95, 595), (95, 555), (127, 535), (160, 555), (165, 595)], closed=True)
mol(ox, oy, [(127, 535), (120, 580), (127, 615)])
mol(ox, oy, [(160, 555), (185, 540)])
atom(ox, oy, 127, 615, 'N')
atom(ox, oy, 205, 538, 'OH')
benzene(ox, oy, 490, 555, r=38)
mol(ox, oy, [(525, 535), (560, 525), (583, 552), (560, 582), (525, 575)], dbl=(2,))
mol(ox, oy, [(455, 575), (430, 588)])
mol(ox, oy, [(560, 582), (575, 620), (600, 628)])
atom(ox, oy, 415, 590, 'Cl')
atom(ox, oy, 560, 520, 'S')
atom(ox, oy, 620, 628, 'OH')
for x, y, s in ((178, 248, 'B6'), (510, 250, 'C12, 88%'), (178, 465, 'D7, 69%'), (510, 470, 'E10'), (168, 675, 'F3'), (510, 675, 'H8')):
    txt(ox + x / 3, oy + y / 3, s, size=8)

plt.savefig('out.png', dpi=100)
plt.close()
